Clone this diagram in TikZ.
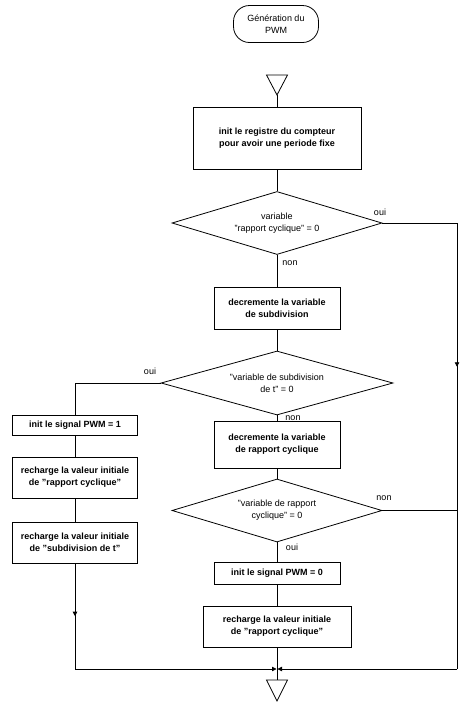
\documentclass[tikz,border=0pt]{standalone}
\usepackage{fontspec}
\setmainfont{Liberation Sans}
\usetikzlibrary{shapes.geometric,arrows.meta,decorations.markings}

\begin{document}
\begin{tikzpicture}[x=1pt,y=-1pt,                              % pixel grid, y down
                    >={Triangle[length=4.5pt,width=4.5pt]},     % arrow tip
                    line width=0.8pt,
                    font=\fontsize{9}{12}\selectfont,
                    action/.style={draw,align=center,inner sep=0pt,
                                   font=\fontsize{9}{12}\selectfont\bfseries},
                    test/.style={draw,diamond,aspect=3.3,align=center,inner sep=0pt},
                    midarrow/.style={postaction={decorate},
                       decoration={markings,mark=at position 0.5 with {\arrow{>}}}}
                    ]

\useasboundingbox (0,0) rectangle (466,702);

% Start
\node[draw,rounded corners=16pt,minimum width=85pt,minimum height=37pt,align=center]
     (start) at (276,24) {G\'en\'eration du\\PWM};
\coordinate (toptri) at (277,95);
\draw (toptri) -- ++(-10.5,-20) -- ++(21,0) -- cycle;

% Register
\node[action,minimum width=168pt,minimum height=62pt] (reg) at (277,138)
     {init le registre du compteur\\pour avoir une periode fixe};
\draw (toptri) -- (reg.north);

% Test duty cycle
\node[test,minimum width=210pt,minimum height=63pt] (dcycle) at (277,223)
     {variable\\"rapport cyclique" = 0};
\draw (reg) -- (dcycle);
\node at (380,212) {oui};
\node at (290,263) {non};

% Subdivision
\node[action,minimum width=126pt,minimum height=42pt] (decsub) at (277,308)
     {decremente la variable\\de subdivision};
\draw (dcycle) -- (decsub);

\node[test,minimum width=232pt,minimum height=64pt] (dsub) at (277,383)
     {"variable de subdivision\\de t" = 0};
\draw (decsub) -- (dsub);
\node at (150,371) {oui};
\node at (293,418) {non};

% Left branch (oui)
\node[action,minimum width=125pt,minimum height=20pt] (pwmone) at (75,425)
     {init le signal PWM = 1};
\node[action,minimum width=125pt,minimum height=41pt] (reldc) at (75,477.5)
     {recharge la valeur initiale\\de "rapport cyclique"};
\node[action,minimum width=125pt,minimum height=41pt] (relsub) at (75,542.5)
     {recharge la valeur initiale\\de "subdivision de t"};
\draw (dsub.west) -| (pwmone.north);
\draw (pwmone) -- (reldc);
\draw (reldc) -- (relsub);

% Middle branch (non)
\node[action,minimum width=126pt,minimum height=47pt] (decdc) at (277,444.5)
     {decremente la variable\\de rapport cyclique};
\draw (dsub) -- (decdc);

\node[test,minimum width=210pt,minimum height=63pt] (ddc) at (277,510.5)
     {"variable de rapport\\cyclique" = 0};
\draw (decdc) -- (ddc);
\node at (384,498) {non};
\node at (292,547) {oui};

\node[action,minimum width=126pt,minimum height=22pt] (pwmzero) at (277,573)
     {init le signal PWM = 0};
\node[action,minimum width=148pt,minimum height=41pt] (reldcb) at (277,626.5)
     {recharge la valeur initiale\\de "rapport cyclique"};
\draw (ddc) -- (pwmzero);
\draw (pwmzero) -- (reldcb);

% Right return line
\coordinate (rtop) at (457,223);
\coordinate (rmid) at (457,510.5);
\coordinate (rbot) at (457,669);
\coordinate (lbot) at (75,669);
\coordinate (join) at (277,669);
\draw (dcycle.east) -- (rtop);
\draw[midarrow] (rtop) -- (rmid);
\draw (ddc.east) -- (rmid) -- (rbot);
\draw[->,shorten >=0.5pt] (rbot) -- (join);

% Left return line
\draw[midarrow] (relsub.south) -- (lbot);
\draw[->,shorten >=0.5pt] (lbot) -- (join);

% End
\coordinate (endtri) at (277,680);
\draw (reldcb) -- (endtri);
\draw (endtri) -- ++(10.5,0) -- ++(-10.5,21) -- ++(-10.5,-21) -- cycle;

\end{tikzpicture}
\end{document}
